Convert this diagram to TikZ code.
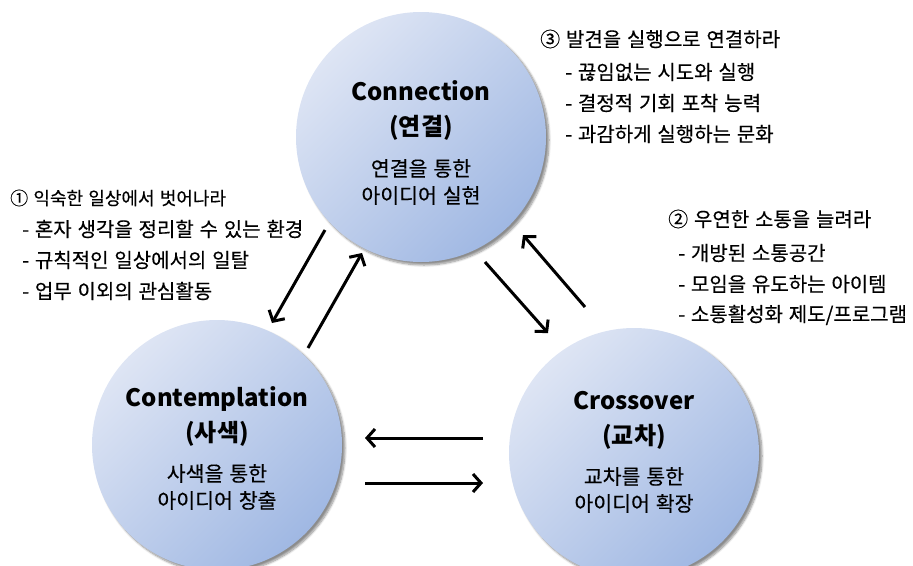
\documentclass[tikz,border=0pt]{standalone}
\usepackage{fontspec}
\setmainfont{Noto Sans CJK KR}
\newfontfamily\krtext[FakeBold=0.3, WordSpace=1.3]{Noto Sans CJK KR}
\usetikzlibrary{calc,arrows.meta,shadows.blur}
\definecolor{bubblelight}{RGB}{222,229,244}
\definecolor{bubbledark}{RGB}{160,184,227}
\newcommand{\bubbleD}{250pt}
\newcommand{\tipgap}{31}
\tikzstyle{bubble}=[circle, minimum size=\bubbleD, inner sep=0pt, top color=bubblelight, bottom color=bubbledark, shading angle=45, blur shadow={shadow xshift=3pt, shadow yshift=-3pt, shadow blur steps=8, shadow opacity=45}]
\tikzstyle{bubbletitle}=[align=center, inner sep=0pt, font=\bfseries\fontsize{24}{35}\selectfont]
\tikzstyle{bubbletext}=[align=center, inner sep=0pt, font=\krtext\fontsize{20.5}{27}\selectfont]
\tikzstyle{tip}=[anchor=west, inner sep=0pt, font=\krtext\fontsize{20}{22}\selectfont]
\tikzstyle{flow}=[line width=3pt, -{Straight Barb[length=8pt, width=18pt]}]
\begin{document}
\begin{tikzpicture}[x=1pt, y=-1pt]
\useasboundingbox (0,0) rectangle (913,565);
\clip (0,0) rectangle (913,565);
% the three circles
\node[bubble] (conn) at (421,137) {};
\node[bubble] (cont) at (217,445) {};
\node[bubble] (cross) at (634,453) {};
\node[bubbletitle] (conntitle) at ($(conn)+(0,-27)$) {Connection\\(연결)};
\node[bubbletext] (conntext) at ($(conn)+(0,45)$) {연결을 통한\\아이디어 실현};
\node[bubbletitle] (conttitle) at ($(cont)+(0,-29)$) {Contemplation\\(사색)};
\node[bubbletext] (conttext) at ($(cont)+(0,42)$) {사색을 통한\\아이디어 창출};
\node[bubbletitle] (crosstitle) at ($(cross)+(0,-33)$) {Crossover\\(교차)};
\node[bubbletext] (crosstext) at ($(cross)+(0,37)$) {교차를 통한\\아이디어 확장};
% arrow ends
\coordinate (a1s) at (325,230);
\coordinate (a1e) at (272,323);
\coordinate (a2s) at (308,348);
\coordinate (a2e) at (362,253);
\coordinate (a3s) at (485,262);
\coordinate (a3e) at (548,333);
\coordinate (a4s) at (585,307);
\coordinate (a4e) at (523,235);
\coordinate (a5s) at (483,438);
\coordinate (a5e) at (365,438);
\coordinate (a6s) at (365,483);
\coordinate (a6e) at (483,483);
\foreach \i in {1,...,6} {
	\draw[flow] (a\i s) -- (a\i e);
}
% the three lists
\node[tip, font=\krtext\fontsize{18}{20}\selectfont] (lefthead) at (10,198) {① 익숙한 일상에서 벗어나라};
\foreach \txt [count=\i] in {혼자 생각을 정리할 수 있는 환경, 규칙적인 일상에서의 일탈, 업무 이외의 관심활동} {
	\node[tip] (left\i) at (22,198+\i*\tipgap) {- \txt};
}
\node[tip] (tophead) at (540,39) {③ 발견을 실행으로 연결하라};
\foreach \txt [count=\i] in {끊임없는 시도와 실행, 결정적 기회 포착 능력, 과감하게 실행하는 문화} {
	\node[tip] (top\i) at (565,41+\i*\tipgap) {- \txt};
}
\node[tip] (righthead) at (668,219) {② 우연한 소통을 늘려라};
\foreach \txt [count=\i] in {개방된 소통공간, 모임을 유도하는 아이템, 소통활성화 제도/프로그램} {
	\node[tip] (right\i) at (678,222+\i*\tipgap) {- \txt};
}
\end{tikzpicture}
\end{document}
